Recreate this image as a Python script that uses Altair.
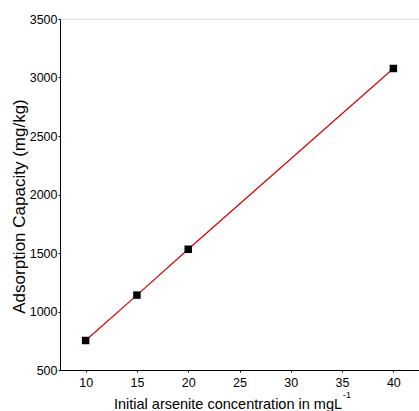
import altair as alt
import pandas as pd

conc = [10, 15, 20, 40]
capacity = [752, 1140, 1532, 3077]

df = pd.DataFrame({"conc": conc, "capacity": capacity})

x_ticks = [10, 15, 20, 25, 30, 35, 40]
y_ticks = [500, 1000, 1500, 2000, 2500, 3000, 3500]

FONT = "Liberation Sans"

x = alt.X("conc:Q", scale=alt.Scale(domain=[7.5, 42.5], nice=False, zero=False),
          axis=alt.Axis(values=x_ticks, title="Initial arsenite concentration in mgL",
                        grid=False, tickSize=2, labelPadding=4, labelFontSize=12.5,
                        titleFontSize=14.5, titleFontWeight="normal",
                        titleX=167.5, titleY=38, titleBaseline="alphabetic",
                        titleAlign="center",
                        labelFont=FONT, titleFont=FONT, domainColor="black",
                        tickColor="black", labelColor="black", titleColor="black"))
y = alt.Y("capacity:Q", scale=alt.Scale(domain=[500, 3500], nice=False, zero=False),
          axis=alt.Axis(values=y_ticks, title="Adsorption Capacity (mg/kg)", format="d",
                        grid=False, tickSize=2, labelPadding=1, labelFontSize=12.5,
                        titleFontSize=17, titleFontWeight="normal",
                        titleX=-49, titleY=187, titleBaseline="top", titleAlign="center",
                        labelFont=FONT, titleFont=FONT, domainColor="black",
                        tickColor="black", labelColor="black", titleColor="black"))

line = alt.Chart(df).mark_line(color="#d40000", strokeWidth=1.2).encode(x=x, y=y)
pts = alt.Chart(df).mark_square(color="black", size=56, opacity=1).encode(x=x, y=y)

sup = alt.Chart(pd.DataFrame({"t": ["-1"]})).mark_text(
    font=FONT, fontSize=9, color="black", align="left", baseline="alphabetic"
).encode(text="t:N", x=alt.value(283), y=alt.value(379))

chart = (line + pts + sup).properties(
    width=359, height=351,
    padding={"left": 60, "top": 19, "right": 0, "bottom": 41},
    autosize=alt.AutoSizeParams(type="none"),
).configure_view(stroke=None).configure(background="white")

chart.save("out.html", embed_options={"renderer": "svg", "actions": False})
